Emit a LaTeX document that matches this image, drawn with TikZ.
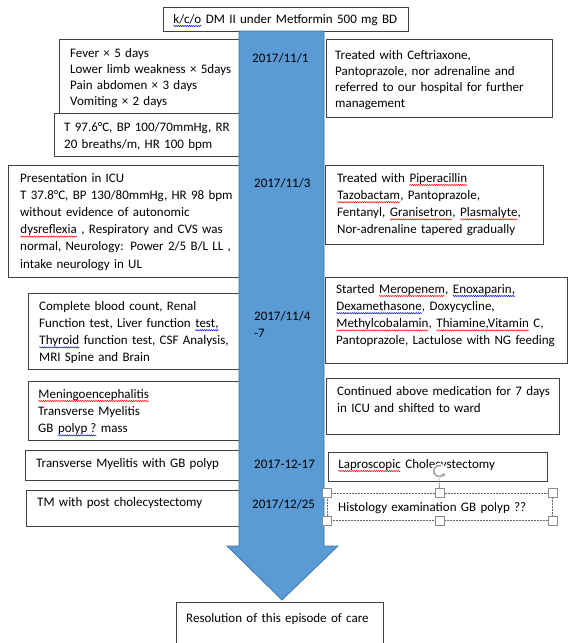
\documentclass[tikz,border=0pt]{standalone}
\usepackage{fontspec}
\setmainfont{Carlito}
\usetikzlibrary{decorations.pathmorphing,arrows.meta}
\definecolor{arrowblue}{HTML}{5B9BD5}
\definecolor{arrowedge}{HTML}{41719C}
\tikzset{
  box/.style={draw=black!75, line width=0.8pt, fill=white, inner sep=0pt, anchor=north west},
  selbox/.style={draw=black!60, dash pattern=on 2pt off 1pt, line width=0.6pt, inner sep=0pt, anchor=north west},
  handle/.style={draw=black!45, fill=white, line width=0.7pt, minimum size=8.5pt, inner sep=0pt},
  txt/.style={anchor=base west, inner sep=0pt, align=left, text width=#1, font=\fontsize{13}{17.2}\selectfont},
  txt/.default=230pt,
  tighttxt/.style={anchor=base west, inner sep=0pt, align=left, text width=#1, font=\fontsize{13}{16}\selectfont},
  tighttxt/.default=230pt,
  datetxt/.style={anchor=base west, inner sep=0pt, align=left, text width=70pt, font=\fontsize{13}{17}\selectfont},
  wavy/.style={draw=#1, line width=0.45pt, decorate, decoration={zigzag, segment length=2.2pt, amplitude=0.7pt}},
}
\newcommand\wv[2]{\tikz[baseline=(w.base)]{\node[inner sep=0pt, outer sep=0pt, text width={}, align=none, anchor=base, minimum size=0pt, draw=none, fill=none] (w) {#2};\draw[wavy=#1] ([yshift=-3pt]w.base west) -- ([yshift=-3pt]w.base east);}}
\newcommand\rw[1]{\wv{red}{#1}}
\newcommand\bw[1]{\wv{blue}{#1}}
\begin{document}
\begin{tikzpicture}[x=1pt,y=-1pt]
\useasboundingbox (0,0) rectangle (568,643);
% left boxes
\node[box, minimum width=245pt, minimum height=24pt] (top) at (163,7) {};
\node[box, minimum width=180pt, minimum height=74pt] (fever) at (59,39) {};
\node[box, minimum width=185pt, minimum height=43pt] (vitals) at (54,113) {};
\node[box, minimum width=231pt, minimum height=112pt] (icu) at (8,165) {};
\node[box, minimum width=211pt, minimum height=76pt] (tests) at (28,293) {};
\node[box, minimum width=211pt, minimum height=59pt] (dx) at (28,381) {};
\node[box, minimum width=214pt, minimum height=30pt] (tmgb) at (25,450) {};
\node[box, minimum width=213pt, minimum height=36pt] (tmpost) at (26,490) {};
% right boxes
\node[box, minimum width=226pt, minimum height=78pt] (ceft) at (326,39) {};
\node[box, minimum width=218pt, minimum height=79pt] (pip) at (325,165) {};
\node[box, minimum width=242pt, minimum height=86pt] (mero) at (325,277) {};
\node[box, minimum width=233pt, minimum height=56pt] (cont) at (326,378) {};
\node[box, minimum width=219pt, minimum height=29pt] (lap) at (328,452) {};
\node[selbox, minimum width=225pt, minimum height=27pt] (hist) at (327,493) {};
\node[box, minimum width=207pt, minimum height=60pt] (res) at (176,602) {};
% big arrow
\filldraw[fill=arrowblue, draw=arrowedge, line width=0.7pt]
  (239,31) -- (324,31) -- (324,546) -- (338,546) -- (282,600) -- (227,546) -- (239,546) -- cycle;
% texts
\node[tighttxt] (ttop) at (173,23) {\bw{k/c/o} DM II under Metformin 500 mg BD};
\node[tighttxt] (tfever) at (70,57) {Fever × 5 days\\Lower limb weakness × 5days\\Pain abdomen × 3 days\\Vomiting × 2 days};
\node[txt] (tvitals) at (64,131) {T 97.6°C, BP 100/70mmHg, RR\\20 breaths/m, HR 100 bpm};
\node[txt] (ticu) at (20,182) {Presentation in ICU\\T 37.8°C, BP 130/80mmHg, HR 98 bpm\\without evidence of autonomic\\\rw{dysreflexia} , Respiratory and CVS was\\normal, Neurology: Power 2/5 B/L LL ,\\intake neurology in UL};
\node[txt] (ttests) at (39,310) {Complete blood count, Renal\\Function test, Liver function \bw{test,}\\\bw{Thyroid} function test, CSF Analysis,\\MRI Spine and Brain};
\node[txt] (tdx) at (38,398) {\rw{Meningoencephalitis}\\Transverse Myelitis\\GB \bw{polyp ?} mass};
\node[txt] (ttmgb) at (36,467) {Transverse Myelitis with GB polyp};
\node[txt] (ttmpost) at (37,506) {TM with post cholecystectomy};
\node[tighttxt] (tceft) at (335,59) {Treated with Ceftriaxone,\\Pantoprazole, nor adrenaline and\\referred to our hospital for further\\management};
\node[txt] (tpip) at (337,182) {Treated with \rw{Piperacillin}\\\rw{Tazobactam}, Pantoprazole,\\Fentanyl, \rw{Granisetron}, \rw{Plasmalyte},\\Nor-adrenaline tapered gradually};
\node[txt] (tmero) at (336,293) {Started \rw{Meropenem}, \bw{Enoxaparin,}\\\bw{Dexamethasone}, Doxycycline,\\\rw{Methylcobalamin}, \rw{Thiamine,Vitamin} C,\\Pantoprazole, Lactulose with NG feeding};
\node[txt] (tcont) at (337,395) {Continued above medication for 7 days\\in ICU and shifted to ward};
\node[txt] (tlap) at (338,468) {\rw{Laproscopic} Cholecystectomy};
\node[txt] (thist) at (338,511) {Histology examination GB polyp ??};
\node[txt] (tres) at (186,622) {Resolution of this episode of care};
% dates
\node[datetxt] (d1) at (252,62) {2017/11/1};
\node[datetxt] (d2) at (254,187) {2017/11/3};
\node[datetxt] (d3) at (254,320) {2017/11/4\\-7};
\node[datetxt] (d4) at (254,468) {2017-12-17};
\node[datetxt] (d5) at (252,508) {2017/12/25};
% selection handles
\coordinate (rotc) at (439,471);
\draw[black!45, line width=0.7pt] (439,478) -- (hist.north);
\node[fill=white, circle, minimum size=15pt, inner sep=0pt] (rot) at (rotc) {};
\draw[black!35, line width=1.6pt, -{Stealth[length=3.5pt,width=5pt]}] ([shift={(70:5.5pt)}]rot.center) arc[start angle=70, end angle=340, radius=5.5pt];
\node[handle] (h1) at (hist.north west) {};
\node[handle] (h2) at (hist.north) {};
\node[handle] (h3) at (hist.north east) {};
\node[handle] (h4) at (hist.south west) {};
\node[handle] (h5) at (hist.south) {};
\node[handle] (h6) at (hist.south east) {};
\end{tikzpicture}
\end{document}
